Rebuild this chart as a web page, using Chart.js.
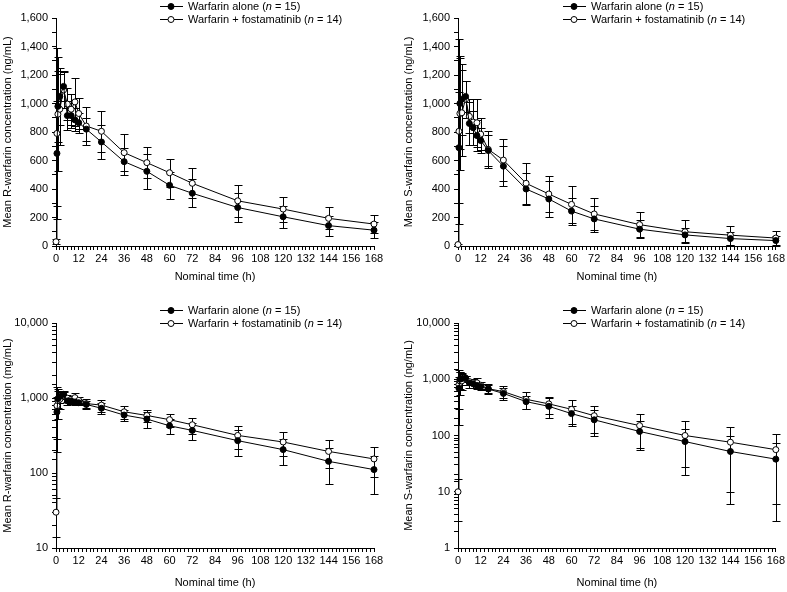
<!DOCTYPE html>
<html>
<head>
<meta charset="utf-8">
<script src="https://cdn.jsdelivr.net/npm/chart.js@4.4.0/dist/chart.umd.min.js"></script>
<style>
  body { margin: 0; background: #fff; width: 787px; height: 592px; position: relative; overflow: hidden;
         font-family: "Liberation Sans", Arial, sans-serif; }
  canvas { position: absolute; }
  .legend { position: absolute; font-size: 11px; line-height: 13px; color: #000; white-space: nowrap; }
  .legend div { height: 13px; display: flex; align-items: center; }
  .legend svg { margin-right: 5px; flex: none; }
</style>
</head>
<body>
<canvas id="rLin" width="393" height="296" style="left:0;top:0"></canvas>
<canvas id="sLin" width="394" height="296" style="left:393px;top:0"></canvas>
<canvas id="rLog" width="393" height="296" style="left:0;top:296px"></canvas>
<canvas id="sLog" width="394" height="296" style="left:393px;top:296px"></canvas>
<div class="legend" id="lg1" style="left:160px;top:0"></div>
<div class="legend" id="lg2" style="left:563px;top:0"></div>
<div class="legend" id="lg3" style="left:160px;top:304px"></div>
<div class="legend" id="lg4" style="left:563px;top:304px"></div>
<script>
// nominal sampling times (h)
const times = [0, 0.5, 1, 2, 4, 6, 8, 10, 12, 16, 24, 36, 48, 60, 72, 96, 120, 144, 168];

// R-warfarin, mean and SD (ng/mL)
const rAlone   = [null, 650, 980, 1050, 1120, 915, 915, 885, 865, 820, 730, 592, 524, 426, 370, 270, 205, 143, 111];
const rAloneSD = [0, 370, 250, 200, 100, 100, 90, 80, 70, 80, 120, 95, 121, 96, 98, 104, 76, 71, 58];
const rFosta   = [30, 790, 925, 960, 1095, 996, 960, 1011, 930, 842, 805, 655, 585, 514, 440, 317, 259, 194, 154];
const rFostaSD = [16, 600, 400, 250, 130, 110, 110, 170, 110, 130, 145, 131, 107, 99, 106, 111, 88, 78, 65];

// S-warfarin, mean and SD (ng/mL)
const sAlone   = [null, 690, 1000, 1030, 1050, 860, 830, 775, 740, 670, 560, 400, 330, 245, 190, 118, 78, 52, 38];
const sAloneSD = [0, 390, 320, 250, 110, 150, 120, 110, 90, 110, 140, 110, 125, 95, 90, 62, 50, 46, 35];
const sFosta   = [10, 805, 930, 935, 1030, 910, 870, 865, 785, 678, 603, 440, 365, 292, 225, 150, 100, 76, 56];
const sFostaSD = [7, 650, 400, 300, 130, 120, 160, 170, 110, 130, 145, 145, 125, 130, 115, 90, 80, 66, 50];

const seriesNames = ['Warfarin alone', 'Warfarin + fostamatinib'];
const seriesN = [15, 14];
const xLabelStep = 12;

const FONT = { family: '"Liberation Sans", Arial, sans-serif', size: 11 };

const toXY = vals => times.map((t, i) => ({ x: t, y: vals[i] }));

// vertical mean ± SD bars, drawn under the lines and markers
const errorBars = {
  id: 'errorBars',
  beforeDatasetsDraw(chart) {
    const { ctx, chartArea } = chart;
    const x = chart.scales.x, y = chart.scales.y;
    const isLog = y.type === 'logarithmic';
    ctx.save();
    ctx.strokeStyle = '#000';
    ctx.lineWidth = 1;
    chart.data.datasets.forEach(ds => {
      ds.data.forEach((p, i) => {
        const sd = ds.sd[i];
        if (p.y == null || !sd) return;
        const px = Math.round(x.getPixelForValue(p.x)) + 0.5;
        const top = Math.round(y.getPixelForValue(p.y + sd)) + 0.5;
        const lowVal = p.y - sd;
        const lowOk = !(isLog && lowVal <= y.min);
        const bot = lowOk ? Math.round(y.getPixelForValue(Math.max(lowVal, isLog ? y.min : lowVal))) + 0.5
                          : chartArea.bottom;
        ctx.beginPath();
        ctx.moveTo(px, top); ctx.lineTo(px, bot);
        ctx.moveTo(px - 4, top); ctx.lineTo(px + 4, top);
        if (lowOk) { ctx.moveTo(px - 4, bot); ctx.lineTo(px + 4, bot); }
        ctx.stroke();
      });
    });
    ctx.restore();
  }
};

function isPow10(v) {
  const l = Math.log10(v);
  return Math.abs(l - Math.round(l)) < 1e-9;
}

function makeChart(id, cfg) {
  const datasets = [
    { label: seriesNames[0], data: toXY(cfg.alone), sd: cfg.aloneSD,
      borderColor: '#000', borderWidth: 1, pointRadius: 3, pointBorderWidth: 1,
      pointBackgroundColor: '#000', pointBorderColor: '#000', clip: false },
    { label: seriesNames[1], data: toXY(cfg.fosta), sd: cfg.fostaSD,
      borderColor: '#000', borderWidth: 1, pointRadius: 3, pointBorderWidth: 1,
      pointBackgroundColor: '#fff', pointBorderColor: '#000', clip: false }
  ];
  const yScale = cfg.log ? {
    type: 'logarithmic', min: cfg.yMin, max: cfg.yMax,
    ticks: { autoSkip: false, color: '#000', font: FONT, padding: 4,
             callback: v => isPow10(v) ? Number(v).toLocaleString('en-US') : '' }
  } : {
    type: 'linear', min: cfg.yMin, max: cfg.yMax,
    ticks: { stepSize: 100, autoSkip: false, color: '#000', font: FONT, padding: 4,
             callback: v => v % 200 === 0 ? v.toLocaleString('en-US') : '' }
  };
  Object.assign(yScale, {
    grid: { drawOnChartArea: false, tickLength: 4, tickColor: '#000' },
    border: { color: '#000', width: 1 },
    title: { display: true, text: cfg.yTitle, color: '#000', font: FONT, padding: { top: cfg.yTitlePad, bottom: 0 } },
    afterFit: s => { s.width = cfg.yWidth; }
  });
  return new Chart(document.getElementById(id), {
    type: 'line',
    data: { datasets },
    options: {
      responsive: false,
      animation: false,
      layout: { padding: cfg.pad },
      plugins: { legend: { display: false }, tooltip: { enabled: false } },
      scales: {
        x: {
          type: 'linear', min: 0, max: 168,
          ticks: { stepSize: 2, autoSkip: false, maxRotation: 0, color: '#000', font: FONT, padding: 2,
                   callback: v => v % xLabelStep === 0 ? String(v) : '' },
          grid: { drawOnChartArea: false, tickLength: 4, tickColor: '#000' },
          border: { color: '#000', width: 1 },
          title: { display: true, text: 'Nominal time (h)', color: '#000', font: FONT, padding: { top: 0, bottom: cfg.xTitlePad } },
          afterFit: s => { s.height = cfg.xHeight; }
        },
        y: yScale
      }
    },
    plugins: [errorBars]
  });
}

makeChart('rLin', { alone: rAlone, aloneSD: rAloneSD, fosta: rFosta, fostaSD: rFostaSD,
  log: false, yMin: 0, yMax: 1600, yTitle: 'Mean R-warfarin concentration (ng/mL)',
  pad: { top: 18, right: 19, left: 0, bottom: 0 }, yWidth: 56, xHeight: 50, yTitlePad: 1, xTitlePad: 12 });
makeChart('sLin', { alone: sAlone, aloneSD: sAloneSD, fosta: sFosta, fostaSD: sFostaSD,
  log: false, yMin: 0, yMax: 1600, yTitle: 'Mean S-warfarin concentration (ng/mL)',
  pad: { top: 18, right: 11, left: 0, bottom: 0 }, yWidth: 65, xHeight: 50, yTitlePad: 9, xTitlePad: 12 });
makeChart('rLog', { alone: rAlone, aloneSD: rAloneSD, fosta: rFosta, fostaSD: rFostaSD,
  log: true, yMin: 10, yMax: 10000, yTitle: 'Mean R-warfarin concentration (mg/mL)',
  pad: { top: 27, right: 19, left: 0, bottom: 0 }, yWidth: 56, xHeight: 44, yTitlePad: 1, xTitlePad: 2 });
makeChart('sLog', { alone: sAlone, aloneSD: sAloneSD, fosta: sFosta, fostaSD: sFostaSD,
  log: true, yMin: 1, yMax: 10000, yTitle: 'Mean S-warfarin concentration (ng/mL)',
  pad: { top: 27, right: 11, left: 0, bottom: 0 }, yWidth: 65, xHeight: 44, yTitlePad: 9, xTitlePad: 2 });

// legends: line with marker, label with italic n
function buildLegend(id) {
  const el = document.getElementById(id);
  seriesNames.forEach((name, i) => {
    const row = document.createElement('div');
    const fill = i === 0 ? '#000' : '#fff';
    row.innerHTML = '<svg width="23" height="9"><line x1="0" y1="4.5" x2="23" y2="4.5" stroke="#000" stroke-width="1"/>' +
      '<circle cx="11" cy="4.5" r="3" fill="' + fill + '" stroke="#000" stroke-width="1"/></svg>' +
      '<span>' + name + ' (<i>n</i> = ' + seriesN[i] + ')</span>';
    el.appendChild(row);
  });
}
['lg1', 'lg2', 'lg3', 'lg4'].forEach(buildLegend);
</script>
</body>
</html>
